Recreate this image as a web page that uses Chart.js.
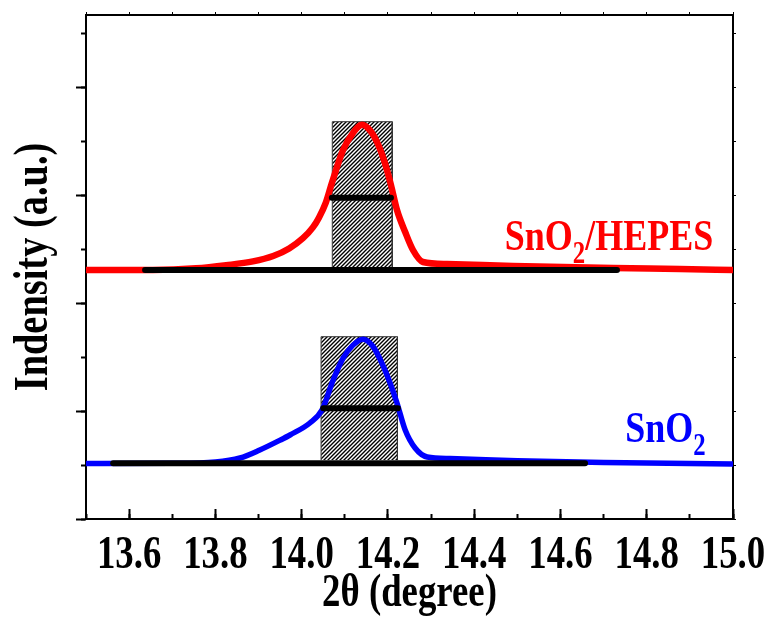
<!DOCTYPE html>
<html>
<head>
<meta charset="utf-8">
<script src="https://cdn.jsdelivr.net/npm/chart.js@4.4.0/dist/chart.umd.min.js"></script>
<style>
  body { margin: 0; background: #fff; }
  canvas { display: block; }
</style>
</head>
<body>
<canvas id="xrd" width="769" height="617"></canvas>
<script>
// 2theta / intensity (intensity in arbitrary units, offset traces)
const redX  = [13.50, 13.655, 13.755, 13.825, 13.887, 13.934, 13.971, 14.003, 14.026, 14.040, 14.056, 14.070, 14.096, 14.119, 14.140, 14.160, 14.177, 14.193, 14.207, 14.221, 14.240, 14.258, 14.281, 14.337, 14.490, 14.722, 14.877, 15.00];
const redY  = [2.306, 2.306, 2.321, 2.350, 2.385, 2.435, 2.505, 2.600, 2.700, 2.790, 2.930, 3.111, 3.417, 3.575, 3.650, 3.590, 3.470, 3.296, 3.093, 2.861, 2.657, 2.491, 2.380, 2.361, 2.343, 2.324, 2.315, 2.306];
const blueX = [13.50, 13.70, 13.80, 13.857, 13.903, 13.950, 13.973, 14.019, 14.047, 14.073, 14.096, 14.119, 14.142, 14.165, 14.186, 14.205, 14.221, 14.240, 14.263, 14.291, 14.344, 14.50, 14.70, 15.00];
const blueY = [0.514, 0.516, 0.528, 0.565, 0.639, 0.730, 0.778, 0.889, 1.009, 1.287, 1.490, 1.610, 1.665, 1.600, 1.444, 1.259, 1.074, 0.824, 0.657, 0.574, 0.560, 0.540, 0.523, 0.509];

// black base lines and FWHM lines: [xStart, xEnd, y]
const redBase   = [13.637, 14.731, 2.306];
const redFwhm   = [14.070, 14.207, 2.975];
const blueBase  = [13.563, 14.657, 0.516];
const blueFwhm  = [14.050, 14.223, 1.025];
// hatched boxes: [xLeft, xRight, yBottom, yTop]
const redBox  = [14.071, 14.210, 2.306, 3.679];
const blueBox = [14.045, 14.222, 0.546, 1.688];

const xTicks = [13.6, 13.8, 14.0, 14.2, 14.4, 14.6, 14.8, 15.0];

const SQ = 0.8; // the figure's serif text is condensed
const serif = "'Liberation Serif', 'Times New Roman', serif";

const canvas = document.getElementById('xrd');
const ctx = canvas.getContext('2d');
const rawFill = CanvasRenderingContext2D.prototype.fillText;
ctx.fillText = function (t, x, y, mw) {
  this.save();
  this.translate(x, y);
  this.scale(SQ, 1);
  if (mw === undefined) rawFill.call(this, t, 0, 0);
  else rawFill.call(this, t, 0, 0, mw / SQ);
  this.restore();
};

function hatch() {
  const c = document.createElement('canvas');
  c.width = 4; c.height = 4;
  const g = c.getContext('2d');
  g.strokeStyle = '#000';
  g.lineWidth = 1.4;
  g.beginPath();
  g.moveTo(-1, 5); g.lineTo(5, -1);
  g.moveTo(-1, 1); g.lineTo(1, -1);
  g.moveTo(3, 5); g.lineTo(5, 3);
  g.stroke();
  return ctx.createPattern(c, 'repeat');
}
const pat = hatch();

function pts(xs, ys) { return xs.map((x, i) => ({x: x, y: ys[i]})); }
function seg(a) { return [{x: a[0], y: a[2]}, {x: a[1], y: a[2]}]; }
function blackLine(a) {
  return { data: seg(a), borderColor: '#000', borderWidth: 6, borderCapStyle: 'round', pointRadius: 0, fill: false };
}
function boxTop(b) {
  return { data: [{x: b[0], y: b[3]}, {x: b[1], y: b[3]}], borderWidth: 0, pointRadius: 0,
           backgroundColor: pat, fill: {value: b[2]} };
}
function boxEdge(b) {
  return { data: [{x: b[0], y: b[2]}, {x: b[0], y: b[3]}, {x: b[1], y: b[3]}, {x: b[1], y: b[2]}],
           borderColor: '#333', borderWidth: 1, pointRadius: 0, fill: false };
}

const seriesLabels = {
  id: 'seriesLabels',
  afterDraw(chart) {
    const xs = chart.scales.x, ys = chart.scales.y;
    const items = [
      {parts: [['SnO', 0], ['2', 1], ['/HEPES', 0]], x: 14.471, y: 2.49, color: '#ff0000'},
      {parts: [['SnO', 0], ['2', 1]], x: 14.750, y: 0.716, color: '#0000ff'}
    ];
    const c = chart.ctx;
    c.save();
    c.textAlign = 'left';
    c.textBaseline = 'alphabetic';
    items.forEach(it => {
      let px = xs.getPixelForValue(it.x);
      const py = ys.getPixelForValue(it.y);
      c.fillStyle = it.color;
      it.parts.forEach(p => {
        c.font = p[1] ? 'bold 31px ' + serif : 'bold 45px ' + serif;
        c.fillText(p[0], px, p[1] ? py + 13 : py);
        px += c.measureText(p[0]).width * SQ;
      });
    });
    c.restore();
  }
};

const X_MIN = 13.5, X_MAX = 15.0, Y_MIN = 0, Y_MAX = 4.667;
function noPad(s) { s.paddingLeft = 0; s.paddingRight = 0; s.paddingTop = 0; s.paddingBottom = 0; }

new Chart(ctx, {
  type: 'line',
  data: {
    datasets: [
      blackLine(redFwhm), blackLine(blueFwhm), blackLine(redBase), blackLine(blueBase),
      { data: pts(redX, redY), borderColor: '#ff0000', borderWidth: 6.5, pointRadius: 0, fill: false, cubicInterpolationMode: 'monotone' },
      { data: pts(blueX, blueY), borderColor: '#0000ff', borderWidth: 5.5, pointRadius: 0, fill: false, cubicInterpolationMode: 'monotone' },
      boxEdge(redBox), boxEdge(blueBox), boxTop(redBox), boxTop(blueBox)
    ]
  },
  options: {
    responsive: false,
    animation: false,
    layout: { padding: { top: 15, right: 36, left: 0, bottom: 0 } },
    plugins: { legend: { display: false }, tooltip: { enabled: false } },
    scales: {
      x: {
        type: 'linear', position: 'bottom', weight: 1, min: X_MIN, max: X_MAX,
        border: { display: true, color: '#000', width: 2 },
        grid: { drawOnChartArea: false, color: '#000', tickLength: -10, tickWidth: 2 },
        ticks: {
          stepSize: 0.2, includeBounds: false, autoSkip: false, maxRotation: 0, padding: 24, color: '#000',
          font: { family: serif, size: 46, weight: 'bold', lineHeight: 1 },
          callback: v => { const t = xTicks.find(k => Math.abs(k - v) < 1e-6); return t === undefined ? '' : t.toFixed(1); }
        },
        title: { display: true, text: '2θ (degree)', color: '#000', padding: { top: 0, bottom: 0 },
                 font: { family: serif, size: 46, weight: 'bold', lineHeight: 1 } },
        afterFit: s => { s.height = 98; noPad(s); }
      },
      xMinor: {
        type: 'linear', position: 'bottom', weight: 0, min: X_MIN, max: X_MAX,
        border: { display: false },
        grid: { drawOnChartArea: false, color: '#000', tickLength: -5, tickWidth: 2 },
        ticks: { stepSize: 0.1, display: false },
        afterFit: s => { s.height = 0; noPad(s); }
      },
      xTop: {
        type: 'linear', position: 'top', min: X_MIN, max: X_MAX,
        border: { display: true, color: '#000', width: 2 },
        grid: { drawOnChartArea: false, color: '#000', tickLength: 3, tickWidth: 1 },
        ticks: { stepSize: 0.1, display: false },
        afterFit: s => { s.height = 0; noPad(s); }
      },
      y: {
        type: 'linear', position: 'left', weight: 1, min: Y_MIN, max: Y_MAX,
        border: { display: true, color: '#000', width: 2 },
        grid: { drawOnChartArea: false, color: '#000', tickLength: 10, tickWidth: 2 },
        ticks: { stepSize: 1, includeBounds: false, display: false },
        title: { display: true, text: 'Indensity (a.u.)', color: '#000', padding: { top: 11, bottom: 0 },
                 font: { family: serif, size: 48, weight: 'bold', lineHeight: 1 } },
        afterFit: s => { s.width = 86; noPad(s); }
      },
      yMinor: {
        type: 'linear', position: 'left', weight: 0, min: Y_MIN, max: Y_MAX,
        border: { display: false },
        grid: { drawOnChartArea: false, color: '#000', tickLength: 5, tickWidth: 2 },
        ticks: { stepSize: 0.5, includeBounds: false, display: false },
        afterFit: s => { s.width = 0; noPad(s); }
      },
      yRight: {
        type: 'linear', position: 'right', min: Y_MIN, max: Y_MAX,
        border: { display: true, color: '#000', width: 2 },
        grid: { drawOnChartArea: false, color: '#000', tickLength: 3, tickWidth: 1 },
        ticks: { stepSize: 0.5, includeBounds: false, display: false },
        afterFit: s => { s.width = 0; noPad(s); }
      }
    }
  },
  plugins: [seriesLabels]
});
</script>
</body>
</html>
